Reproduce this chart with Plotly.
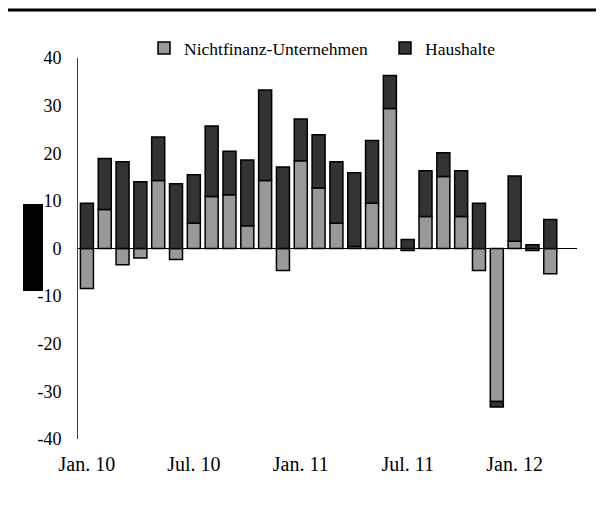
import plotly.graph_objects as go

months = ["Jan.", "Feb.", "Mär.", "Apr.", "Mai", "Jun.", "Jul.", "Aug.", "Sep.", "Okt.", "Nov.", "Dez."]
categories = [f"{m} {y}" for y in ("10", "11", "12") for m in months][:28]

nfc = [-8.4, 8.2, -3.4, -2.0, 14.3, -2.3, 5.3, 10.9, 11.3, 4.8, 14.3, -4.6,
       18.4, 12.7, 5.3, 0.4, 9.5, 29.4, -0.4, 6.7, 15.1, 6.7, -4.6, -32.1,
       1.5, -0.4, -5.3]
hh = [9.5, 10.7, 18.2, 14.0, 9.1, 13.6, 10.2, 14.8, 9.1, 13.8, 19.0, 17.1,
      8.8, 11.2, 12.9, 15.5, 13.2, 6.9, 1.9, 9.6, 5.0, 9.6, 9.5, -1.2,
      13.7, 0.8, 6.1]

tick_labels = ["Jan. 10", "Jul. 10", "Jan. 11", "Jul. 11", "Jan. 12"]
tick_vals = ["Jan. 10", "Jul. 10", "Jan. 11", "Jul. 11", "Jan. 12"]
y_ticks = [-40, -30, -20, -10, 0, 10, 20, 30, 40]
y_tick_text = ["-40", "-30", "-20", "-10", "0", "10", "20", "30", "40"]

FAM = "Liberation Serif"
font = dict(family=FAM, size=17.5, color="black")

# figure-pixel geometry (page body adds an 8px offset)
L, T, PW, PH = 70, 50, 499, 381
B = T + PH


def px(x):
    return (x - L) / PW


def py(y):
    return (B - y) / PH


fig = go.Figure()
fig.add_trace(go.Bar(x=categories[:len(nfc)], y=nfc, name="Nichtfinanz-Unternehmen",
                     marker=dict(color="#999999", line=dict(color="black", width=1.5))))
fig.add_trace(go.Bar(x=categories[:len(hh)], y=hh, name="Haushalte",
                     marker=dict(color="#333333", line=dict(color="black", width=1.5))))

fig.update_layout(
    width=604, height=506,
    margin=dict(l=L, r=604 - L - PW, t=T, b=506 - B, autoexpand=False),
    barmode="relative", bargap=0.27,
    plot_bgcolor="white", paper_bgcolor="white",
    font=font,
    showlegend=True,
    legend=dict(orientation="h", x=px(136), y=py(40), xanchor="left", yanchor="middle",
                font=font, bgcolor="rgba(0,0,0,0)", itemwidth=30, traceorder="normal",
                entrywidth=196),
    xaxis=dict(type="category", categoryorder="array", categoryarray=categories,
               range=[-0.5, 27.5], tickmode="array", tickvals=tick_vals, ticktext=tick_labels,
               showgrid=False, showline=False, ticks="", ticklabelstandoff=11,
               tickfont=dict(family=FAM, size=20, color="black"), automargin=False),
    yaxis=dict(range=[-40, 40], tickmode="array", tickvals=y_ticks, ticktext=y_tick_text,
               showgrid=False,
               showline=True, linecolor="#404040", linewidth=1, ticks="",
               zeroline=True, zerolinecolor="black", zerolinewidth=1,
               ticklabelstandoff=12, tickfont=dict(family=FAM, size=18, color="black"),
               automargin=False),
    shapes=[
        dict(type="line", xref="paper", yref="paper", x0=px(-10), x1=px(610),
             y0=py(2), y1=py(2), line=dict(color="black", width=3)),
        dict(type="rect", xref="paper", yref="paper", x0=px(15), x1=px(35),
             y0=py(283), y1=py(196), fillcolor="black", line=dict(width=0)),
    ],
)

fig.write_html("out.html")
